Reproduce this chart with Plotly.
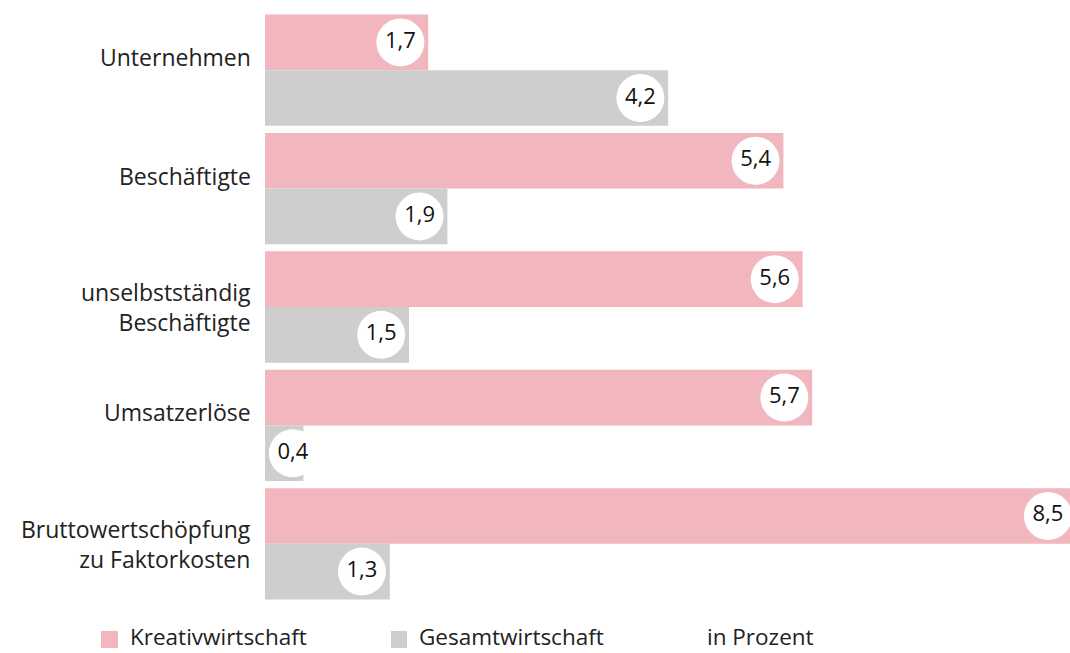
import plotly.graph_objects as go

categories = ["Unternehmen", "Beschäftigte", "unselbstständig<br>Beschäftigte",
              "Umsatzerlöse", "Bruttowertschöpfung<br>zu Faktorkosten"]
kreativ = [1.7, 5.4, 5.6, 5.7, 8.5]
gesamt = [4.2, 1.9, 1.5, 0.4, 1.3]
series_names = ["Kreativwirtschaft", "Gesamtwirtschaft"]
unit_label = "in Prozent"

PINK = "#f1b6be"
GRAY = "#cecece"
TEXT = "#222222"
FONT = "Open Sans"

W, H = 1070, 653
ML, MR, MT, MB = 265, 0, 11, 50
PW, PH = W - ML - MR, H - MT - MB
XMAX = PW / 96

def px_x(px):
    return (px - ML) / PW

def px_y(py):
    return (H - MB - py) / PH

def fmt(v):
    return f"{v:.1f}".replace(".", ",")

fig = go.Figure()
fig.add_trace(go.Bar(y=categories, x=kreativ, orientation="h", name=series_names[0],
                     marker=dict(color=PINK, line=dict(width=0)), offsetgroup="k"))
fig.add_trace(go.Bar(y=categories, x=gesamt, orientation="h", name=series_names[1],
                     marker=dict(color=GRAY, line=dict(width=0)), offsetgroup="g"))

# value label circles
for vals, grp in [(kreativ, "k"), (gesamt, "g")]:
    fig.add_trace(go.Scatter(
        x=[min(max(v - 0.29, 0.29), XMAX - 0.23) for v in vals],
        y=categories, orientation="h", offsetgroup=grp,
        mode="markers+text",
        marker=dict(size=48, color="white", line=dict(width=0)),
        text=[fmt(v) for v in vals], textposition="middle center",
        textfont=dict(family=FONT, size=22, color="#111111"),
        showlegend=False, hoverinfo="skip", cliponaxis=False,
    ))

fig.update_layout(
    width=W, height=H,
    margin=dict(l=ML, r=MR, t=MT, b=MB, autoexpand=False),
    paper_bgcolor="white", plot_bgcolor="white",
    barmode="group", bargap=0.06, bargroupgap=0,
    scattermode="group", scattergap=0.06,
    showlegend=False,
    font=dict(family=FONT, size=23, color=TEXT),
    xaxis=dict(range=[0, XMAX], visible=False, fixedrange=True),
    yaxis=dict(autorange="reversed", showticklabels=False, showgrid=False,
               zeroline=False, ticks=""),
)

# category labels
for c in categories:
    two = "<br>" in c
    fig.add_annotation(x=0, xref="paper", y=c, yref="y", text=c, showarrow=False,
                       xanchor="right", xshift=-12, yshift=0 if two else 13,
                       align="right", font=dict(family=FONT, size=23, color=TEXT))

# custom legend
LEG_Y = 636
for (x0, x1), col, name, tx in [((101, 118), PINK, series_names[0], 129),
                                ((391, 407), GRAY, series_names[1], 418)]:
    fig.add_shape(type="rect", xref="paper", yref="paper",
                  x0=px_x(x0), x1=px_x(x1), y0=px_y(648), y1=px_y(631),
                  fillcolor=col, line=dict(width=0))
    fig.add_annotation(x=px_x(tx), y=px_y(LEG_Y), xref="paper", yref="paper",
                       text=name, showarrow=False, xanchor="left", yanchor="middle",
                       borderpad=0, font=dict(family=FONT, size=22.5, color=TEXT))
fig.add_annotation(x=px_x(706), y=px_y(LEG_Y), xref="paper", yref="paper",
                   text=unit_label, showarrow=False, xanchor="left", yanchor="middle",
                   borderpad=0, font=dict(family=FONT, size=22.5, color=TEXT))

fig.write_html("out.html", config={"displayModeBar": False},
               post_script="document.body.style.margin='0';document.body.style.overflow='hidden';")
